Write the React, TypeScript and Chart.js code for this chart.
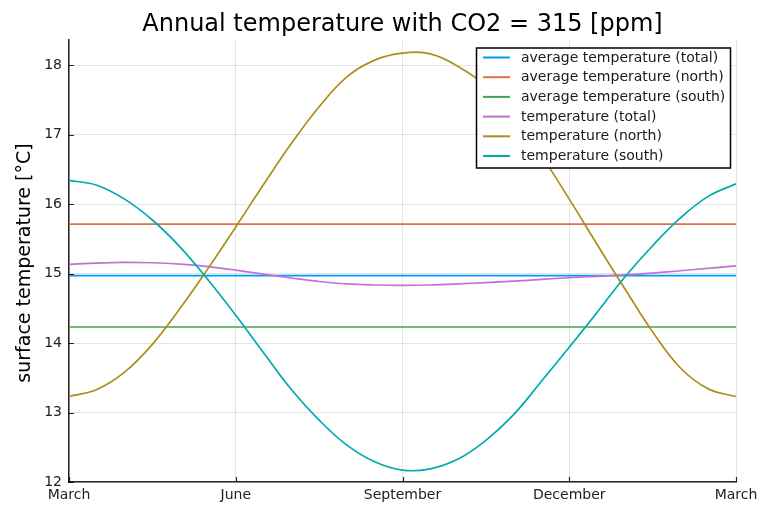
import React, { useEffect, useRef } from "react";
import { Chart, registerables } from "chart.js";

Chart.register(...registerables);

// months after March (0 = March, 12 = next March), half-month sampling
const months = [0, 0.5, 1, 1.5, 2, 2.5, 3, 3.5, 4, 4.5, 5, 5.5, 6, 6.5, 7, 7.5, 8, 8.5, 9, 9.5, 10, 10.5, 11, 11.5, 12];

const tempTotal = [15.13, 15.15, 15.16, 15.155, 15.135, 15.1, 15.05, 14.99, 14.935, 14.885, 14.85, 14.835, 14.83, 14.835, 14.85, 14.87, 14.89, 14.915, 14.94, 14.96, 14.98, 15.005, 15.04, 15.075, 15.11];
const tempNorth = [13.23, 13.33, 13.58, 13.98, 14.5, 15.07, 15.67, 16.28, 16.87, 17.4, 17.83, 18.07, 18.17, 18.16, 17.98, 17.7, 17.27, 16.7, 16.07, 15.42, 14.78, 14.16, 13.64, 13.34, 13.23];
const tempSouth = [16.34, 16.27, 16.07, 15.77, 15.38, 14.91, 14.4, 13.86, 13.33, 12.89, 12.53, 12.29, 12.17, 12.19, 12.33, 12.6, 12.97, 13.45, 13.94, 14.44, 14.95, 15.4, 15.8, 16.11, 16.29];

const avgTotal = 14.97;
const avgNorth = 15.71;
const avgSouth = 14.23;

const seriesLabels = [
  "average temperature (total)",
  "average temperature (north)",
  "average temperature (south)",
  "temperature (total)",
  "temperature (north)",
  "temperature (south)",
];
const seriesColors = ["#009AFA", "#E36F47", "#3EA44E", "#C371D2", "#AC8E18", "#00AAAE"];

const xTickValues = [0, 3, 6, 9, 12];
const xTickLabels = ["March", "June", "September", "December", "March"];
const yTickValues = [12, 13, 14, 15, 16, 17, 18];

const titleText = "Annual temperature with CO2 = 315 [ppm]";
const yTitleText = "surface temperature [°C]";

const FONT = "'DejaVu Sans', sans-serif";

const decorPlugin = {
  id: "decor",
  afterDraw(chart: any) {
    const ctx = chart.ctx;
    const area = chart.chartArea;
    const xs = chart.scales.x;
    const ys = chart.scales.y;
    ctx.save();
    // inward tick marks
    ctx.strokeStyle = "rgba(0,0,0,0.85)";
    ctx.lineWidth = 1.2;
    ctx.beginPath();
    yTickValues.forEach((v) => {
      const py = Math.round(ys.getPixelForValue(v)) + 0.5;
      ctx.moveTo(area.left, py);
      ctx.lineTo(area.left + 5, py);
    });
    xTickValues.forEach((v) => {
      const px = Math.round(xs.getPixelForValue(v)) + 0.5;
      ctx.moveTo(px, area.bottom);
      ctx.lineTo(px, area.bottom - 5);
    });
    ctx.stroke();

    // title
    ctx.fillStyle = "#000";
    ctx.font = `24px ${FONT}`;
    ctx.textAlign = "center";
    ctx.textBaseline = "alphabetic";
    ctx.fillText(titleText, (area.left + area.right) / 2, 31);

    // y axis title
    ctx.save();
    ctx.translate(29.5, (area.top + area.bottom) / 2 + 2);
    ctx.rotate(-Math.PI / 2);
    ctx.font = `19px ${FONT}`;
    ctx.textAlign = "center";
    ctx.textBaseline = "alphabetic";
    ctx.fillText(yTitleText, 0, 0);
    ctx.restore();

    // legend
    const bx = 476.5, by = 48, bw = 254, bh = 120;
    ctx.fillStyle = "#fff";
    ctx.fillRect(bx, by, bw, bh);
    ctx.strokeStyle = "#000";
    ctx.lineWidth = 1.5;
    ctx.strokeRect(bx, by, bw, bh);
    ctx.font = `14px ${FONT}`;
    ctx.textAlign = "left";
    ctx.textBaseline = "middle";
    seriesLabels.forEach((lab, i) => {
      const cy = 57.5 + i * 19.7;
      ctx.strokeStyle = seriesColors[i];
      ctx.lineWidth = 2;
      ctx.beginPath();
      ctx.moveTo(483, cy);
      ctx.lineTo(510, cy);
      ctx.stroke();
      ctx.fillStyle = "#1a1a1a";
      ctx.fillText(lab, 521, cy + 0.5);
    });
    ctx.restore();
  },
};

export default function App() {
  const ref = useRef<HTMLCanvasElement | null>(null);
  useEffect(() => {
    document.body.style.margin = "0";
    if (!ref.current) return;
    const flat = (v: number) => [
      { x: months[0], y: v },
      { x: months[months.length - 1], y: v },
    ];
    const curve = (arr: number[]) => arr.map((v, i) => ({ x: months[i], y: v }));
    const dataArrays = [flat(avgTotal), flat(avgNorth), flat(avgSouth), curve(tempTotal), curve(tempNorth), curve(tempSouth)];
    const chart = new Chart(ref.current, {
      type: "line",
      data: {
        datasets: dataArrays.map((d, i) => ({
          label: seriesLabels[i],
          data: d,
          borderColor: seriesColors[i],
          backgroundColor: seriesColors[i],
          borderWidth: 1.7,
          pointRadius: 0,
          tension: 0.4,
          fill: false,
          order: 10 - i,
        })),
      },
      options: {
        responsive: false,
        animation: false,
        devicePixelRatio: 1,
        layout: { padding: { top: 40, right: 23, bottom: 0, left: 0 } },
        plugins: { legend: { display: false }, title: { display: false }, tooltip: { enabled: false } },
        scales: {
          x: {
            type: "linear",
            min: 0,
            max: 12,
            afterBuildTicks: (s: any) => {
              s.ticks = xTickValues.map((v) => ({ value: v }));
            },
            afterFit: (s: any) => {
              s.height = 25;
              s.paddingLeft = 0;
              s.paddingRight = 0;
            },
            ticks: {
              autoSkip: false,
              maxRotation: 0,
              padding: 5,
              color: "#222",
              font: { family: FONT, size: 14 },
              callback: (v: any) => {
                const idx = xTickValues.indexOf(Number(v));
                return idx >= 0 ? xTickLabels[idx] : "";
              },
            },
            grid: { color: "rgba(0,0,0,0.1)", lineWidth: 1, drawTicks: false },
            border: { color: "rgba(0,0,0,0.85)", width: 1.5 },
          },
          y: {
            type: "linear",
            min: 12,
            max: 18.36,
            afterBuildTicks: (s: any) => {
              s.ticks = yTickValues.map((v) => ({ value: v }));
            },
            afterFit: (s: any) => {
              s.width = 69;
              s.paddingTop = 0;
              s.paddingBottom = 0;
            },
            ticks: {
              padding: 7,
              color: "#222",
              font: { family: FONT, size: 14 },
              callback: (v: any) => String(v),
            },
            grid: { color: "rgba(0,0,0,0.1)", lineWidth: 1, drawTicks: false },
            border: { color: "rgba(0,0,0,0.85)", width: 1.5 },
          },
        },
      },
      plugins: [decorPlugin],
    });
    return () => chart.destroy();
  }, []);
  return (
    <div style={{ position: "absolute", left: 0, top: 0, width: 759, height: 507, background: "#fff" }}>
      <canvas ref={ref} width={759} height={507} style={{ display: "block" }} />
    </div>
  );
}
